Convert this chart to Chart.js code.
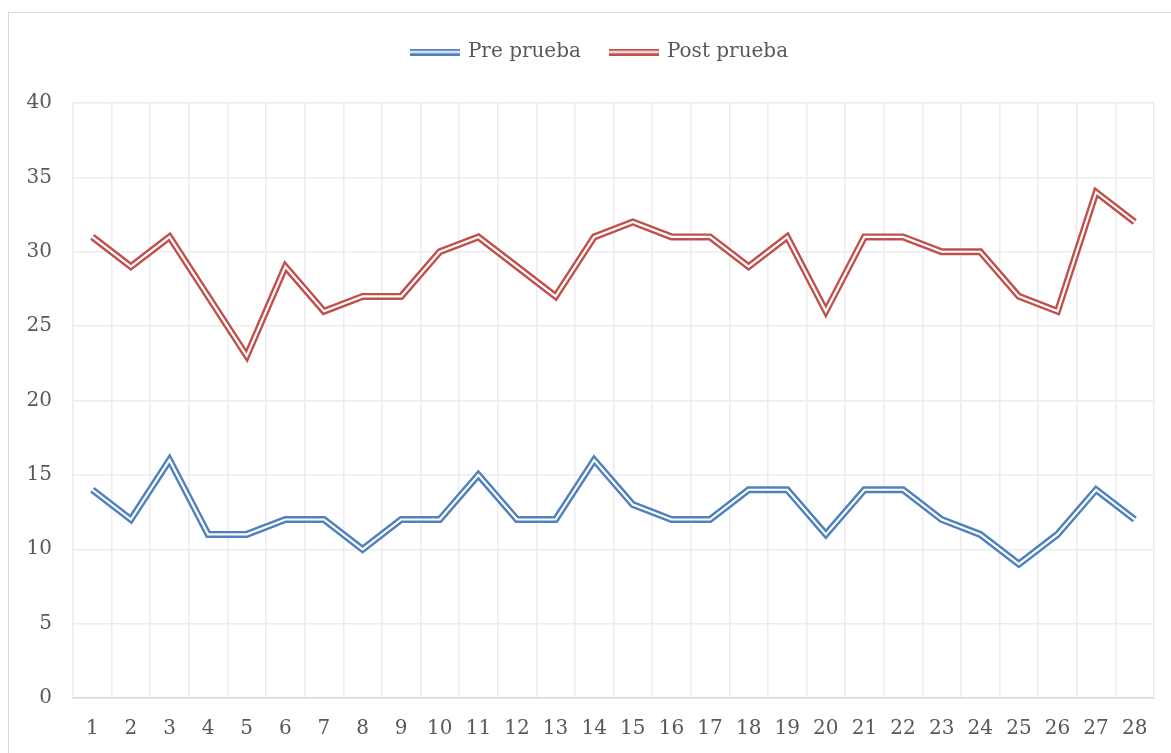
<!DOCTYPE html>
<html>
<head>
<meta charset="utf-8">
<script src="https://cdn.jsdelivr.net/npm/chart.js@4/dist/chart.umd.min.js"></script>
<style>
  html, body { margin: 0; padding: 0; background: #ffffff; }
  #wrap { position: relative; width: 1171px; height: 753px; overflow: hidden; }
  #frame { position: absolute; left: 8px; top: 12px; width: 1180px; height: 800px; border: 1.5px solid #d9d9d9; box-sizing: border-box; }
  canvas { position: absolute; left: 0; top: 0; }
</style>
</head>
<body>
<div id="wrap">
  <div id="frame"></div>
  <canvas id="c" width="1171" height="753"></canvas>
</div>
<script>
const categories = ["1","2","3","4","5","6","7","8","9","10","11","12","13","14","15","16","17","18","19","20","21","22","23","24","25","26","27","28"];
const preValues  = [14, 12, 16, 11, 11, 12, 12, 10, 12, 12, 15, 12, 12, 16, 13, 12, 12, 14, 14, 11, 14, 14, 12, 11, 9, 11, 14, 12];
const postValues = [31, 29, 31, 27, 23, 29, 26, 27, 27, 30, 31, 29, 27, 31, 32, 31, 31, 29, 31, 26, 31, 31, 30, 30, 27, 26, 34, 32];
const seriesNames = ["Pre prueba", "Post prueba"];
const seriesColors = ["#4F81BD", "#C0504D"];
const yTicks = [0, 5, 10, 15, 20, 25, 30, 35, 40];

const FONT = "'DejaVu Serif', serif";
const TEXT = "#595959";

function legendSymbol(color) {
  const cv = document.createElement('canvas');
  cv.width = 50; cv.height = 7;
  const g = cv.getContext('2d');
  g.fillStyle = color; g.fillRect(0, 0, 50, 7);
  g.fillStyle = '#ffffff'; g.fillRect(0, 2.5, 50, 2);
  return cv;
}

const datasets = [];
seriesNames.forEach((name, i) => {
  const vals = i === 0 ? preValues : postValues;
  datasets.push({
    label: name,
    data: vals,
    borderColor: seriesColors[i],
    backgroundColor: seriesColors[i],
    borderWidth: 7,
    borderJoinStyle: 'miter',
    borderCapStyle: 'butt',
    pointRadius: 0,
    pointHoverRadius: 0,
    tension: 0,
    fill: false,
    order: 2,
    pointStyle: legendSymbol(seriesColors[i])
  });
});
seriesNames.forEach((name, i) => {
  const vals = i === 0 ? preValues : postValues;
  datasets.push({
    label: name + '_inner',
    data: vals,
    borderColor: '#ffffff',
    borderWidth: 2.2,
    borderJoinStyle: 'miter',
    borderCapStyle: 'butt',
    pointRadius: 0,
    pointHoverRadius: 0,
    tension: 0,
    fill: false,
    order: 1
  });
});

const legendSpacer = {
  id: 'legendSpacer',
  afterInit(chart) {
    const lg = chart.legend;
    const origFit = lg.fit;
    lg.fit = function () { origFit.call(this); this.height += 31; };
    const origDraw = lg.draw;
    lg.draw = function () {
      const ctx = this.ctx;
      ctx.save();
      ctx.translate(23, 0);
      origDraw.apply(this, arguments);
      ctx.restore();
    };
  }
};

new Chart(document.getElementById('c'), {
  type: 'line',
  data: { labels: categories, datasets: datasets },
  plugins: [legendSpacer],
  options: {
    responsive: false,
    animation: false,
    devicePixelRatio: 1,
    layout: { padding: { left: 0, right: 17, top: 12, bottom: 0 } },
    plugins: {
      tooltip: { enabled: false },
      legend: {
        position: 'top',
        labels: {
          filter: (item) => !item.text.endsWith('_inner'),
          usePointStyle: true,
          pointStyleWidth: 46,
          padding: 30,
          color: TEXT,
          font: { family: FONT, size: 20 }
        }
      }
    },
    scales: {
      x: {
        offset: true,
        grid: { color: '#ececec', lineWidth: 1.5, offset: true, drawTicks: false },
        border: { color: '#d9d9d9', width: 1.5 },
        ticks: { color: TEXT, font: { family: FONT, size: 20 }, padding: 19, maxRotation: 0, autoSkip: false },
        afterFit: (s) => { s.height = 55; }
      },
      y: {
        min: 0, max: 40,
        afterBuildTicks: (s) => { s.ticks = yTicks.map(v => ({ value: v })); },
        grid: { color: '#ececec', lineWidth: 1.5, drawTicks: false },
        border: { display: false },
        ticks: { color: TEXT, font: { family: FONT, size: 20 }, padding: 21 },
        afterFit: (s) => { s.width = 73; }
      }
    }
  }
});
</script>
</body>
</html>
